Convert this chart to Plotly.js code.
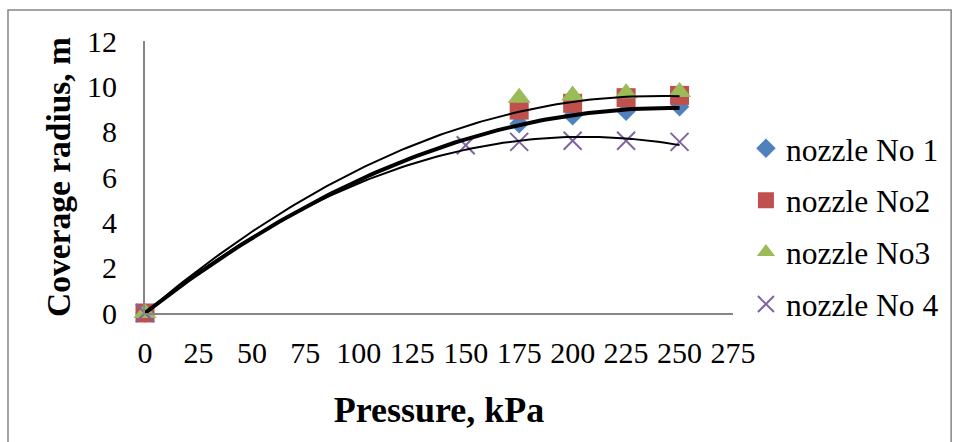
<!DOCTYPE html>
<html>
<head>
<meta charset="utf-8">
<script src="https://cdn.plot.ly/plotly-3.0.1.min.js"></script>
<style>html,body{margin:0;padding:0;background:#fff;}#chart{width:957px;height:442px;}</style>
</head>
<body>
<div id="chart"></div>
<script>
// Data
const pressure123 = [0, 175, 200, 225, 250];
const nozzle1 = [0, 8.35, 8.7, 8.9, 9.1];
const nozzle2 = [0, 8.95, 9.25, 9.5, 9.6];
const nozzle3 = [0, 9.5, 9.6, 9.7, 9.75];
const pressure4 = [0, 150, 175, 200, 225, 250];
const nozzle4 = [0, 7.4, 7.55, 7.6, 7.6, 7.55];
const seriesNames = ['nozzle No 1', 'nozzle No2', 'nozzle No3', 'nozzle No 4'];
const xTicks = [0, 25, 50, 75, 100, 125, 150, 175, 200, 225, 250, 275];
const yTicks = [0, 2, 4, 6, 8, 10, 12];

// Polynomial (order 2) least-squares trendline, as the spreadsheet computes it
function quadFit(xs, ys) {
  let S = [0,0,0,0,0], T = [0,0,0];
  for (let i = 0; i < xs.length; i++) {
    let p = 1;
    for (let k = 0; k < 5; k++) { S[k] += p; if (k < 3) T[k] += p * ys[i]; p *= xs[i]; }
  }
  const A = [[S[0],S[1],S[2],T[0]],[S[1],S[2],S[3],T[1]],[S[2],S[3],S[4],T[2]]];
  for (let c = 0; c < 3; c++) {
    for (let r = c + 1; r < 3; r++) {
      const f = A[r][c] / A[c][c];
      for (let k = c; k < 4; k++) A[r][k] -= f * A[c][k];
    }
  }
  const sol = [0,0,0];
  for (let r = 2; r >= 0; r--) {
    let s = A[r][3];
    for (let k = r + 1; k < 3; k++) s -= A[r][k] * sol[k];
    sol[r] = s / A[r][r];
  }
  return sol;
}
function trend(xs, ys) {
  const c = quadFit(xs, ys);
  const x0 = Math.min(...xs), x1 = Math.max(...xs);
  const tx = [], ty = [];
  for (let i = 0; i <= 100; i++) {
    const x = x0 + (x1 - x0) * i / 100;
    tx.push(x); ty.push(c[0] + c[1] * x + c[2] * x * x);
  }
  return {x: tx, y: ty};
}

const t1 = trend(pressure123, nozzle1);
const t2 = trend(pressure123, nozzle2);
const t4 = trend(pressure4, nozzle4);

const traces = [
  {x: pressure123, y: nozzle1, name: seriesNames[0], legendgroup: 'a', mode: 'markers', type: 'scatter', cliponaxis: false,
   marker: {symbol: 'diamond', size: 15, color: '#4F81BD'}},
  {x: pressure123, y: nozzle2, name: seriesNames[1], legendgroup: 'b', mode: 'markers', type: 'scatter', cliponaxis: false,
   marker: {symbol: 'square', size: 19, color: '#C0504D'}},
  {x: pressure123, y: nozzle3, name: seriesNames[2], legendgroup: 'c', mode: 'markers', type: 'scatter', cliponaxis: false,
   marker: {symbol: 'triangle-up', size: 20, color: '#9BBB59'}},
  {x: pressure4, y: nozzle4, name: seriesNames[3], legendgroup: 'd', mode: 'markers', type: 'scatter', cliponaxis: false,
   marker: {symbol: 'x-thin', size: 18, color: '#8064A2', line: {color: '#8064A2', width: 2}}},
  {x: t1.x, y: t1.y, mode: 'lines', type: 'scatter', showlegend: false, hoverinfo: 'skip', cliponaxis: false,
   line: {color: '#000', width: 4}},
  {x: t2.x, y: t2.y, mode: 'lines', type: 'scatter', showlegend: false, hoverinfo: 'skip', cliponaxis: false,
   line: {color: '#000', width: 2}},
  {x: t4.x, y: t4.y, mode: 'lines', type: 'scatter', showlegend: false, hoverinfo: 'skip', cliponaxis: false,
   line: {color: '#000', width: 2}}
];

const font = '"Liberation Serif", "Times New Roman", serif';
const layout = {
  width: 957, height: 442,
  margin: {l: 145, r: 224, t: 41, b: 129},
  paper_bgcolor: '#fff', plot_bgcolor: '#fff',
  font: {family: font, size: 30, color: '#000'},
  showlegend: true,
  legend: {x: 1.022, xanchor: 'left', y: 0.705, yanchor: 'top', tracegroupgap: 8,
           font: {family: font, size: 31.5, color: '#000'}, bgcolor: 'rgba(0,0,0,0)'},
  xaxis: {
    range: [0, 275], tickvals: xTicks, ticktext: xTicks.map(String),
    showgrid: false, zeroline: false, showline: true, linecolor: '#868686', linewidth: 2,
    ticks: '', ticklabelstandoff: 12,
    tickfont: {family: font, size: 30, color: '#000'},
    title: {text: '<b>Pressure, kPa</b>', font: {family: font, size: 36, color: '#000'}, standoff: 29}
  },
  yaxis: {
    range: [0, 12], tickvals: yTicks, ticktext: yTicks.map(String),
    showgrid: false, zeroline: false, showline: true, linecolor: '#868686', linewidth: 2,
    ticks: '', ticklabelstandoff: 20,
    tickfont: {family: font, size: 30, color: '#000'},
    title: {text: '<b>Coverage radius, m</b>', font: {family: font, size: 33.5, color: '#000'}, standoff: 6}
  },
  shapes: [{type: 'rect', xref: 'paper', yref: 'paper', x0: -0.233, x1: 1.371, y0: -0.52, y1: 1.114,
            line: {color: '#868686', width: 1.5}, layer: 'below'}]
};

Plotly.newPlot('chart', traces, layout, {displayModeBar: false, staticPlot: true});
</script>
</body>
</html>
